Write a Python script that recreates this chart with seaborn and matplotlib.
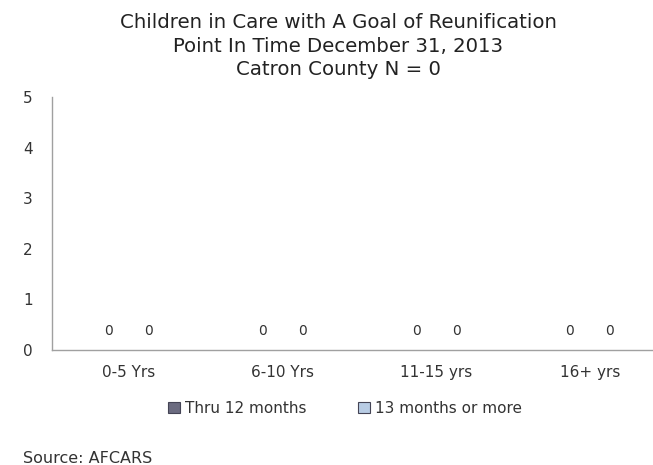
import matplotlib
matplotlib.use("Agg")
import matplotlib.pyplot as plt
import seaborn as sns
import pandas as pd

categories = ["0-5 Yrs", "6-10 Yrs", "11-15 yrs", "16+ yrs"]
thru_12 = [0, 0, 0, 0]
over_13 = [0, 0, 0, 0]
series_names = ["Thru 12 months", "13 months or more"]
title_lines = ["Children in Care with A Goal of Reunification",
               "Point In Time December 31, 2013",
               "Catron County N = 0"]
source = "Source: AFCARS"

df = pd.DataFrame({
    "cat": categories * 2,
    "val": thru_12 + over_13,
    "series": [series_names[0]] * 4 + [series_names[1]] * 4,
})

sns.set_style("white")
plt.rcParams["font.family"] = ["DejaVu Sans"]

fig = plt.figure(figsize=(6.53, 4.65), dpi=100)
ax = fig.add_axes([52 / 653, (465 - 350) / 465, 1 - 52 / 653, (350 - 97) / 465])

palette = {series_names[0]: "#6b6b80", series_names[1]: "#b8cce4"}
sns.barplot(data=df, x="cat", y="val", hue="series", order=categories,
            hue_order=series_names, palette=palette, width=0.52,
            edgecolor="#555566", linewidth=0, ax=ax)

for cont in ax.containers:
    for rect, v in zip(cont, cont.datavalues):
        ax.annotate(f"{v:g}", (rect.get_x() + rect.get_width() / 2, v),
                    xytext=(0, 13.5), textcoords="offset points",
                    ha="center", va="center", fontsize=10, color="#333333")

ax.set_ylim(0, 5)
ax.set_xlim(-0.5, 3.41)
ax.set_yticks([0, 1, 2, 3, 4, 5])
ax.set_xlabel("")
ax.set_ylabel("")
ax.tick_params(axis="both", length=0, labelsize=11, colors="#333333")
ax.tick_params(axis="x", pad=11)
ax.tick_params(axis="y", pad=14)
for s in ["top", "right"]:
    ax.spines[s].set_visible(False)
for s in ["left", "bottom"]:
    ax.spines[s].set_color("#a0a0a0")
    ax.spines[s].set_linewidth(1.0)

ax.get_legend().remove()
handles = [plt.Rectangle((0, 0), 1, 1, facecolor=palette[n], edgecolor="#444455", linewidth=0.8)
           for n in series_names]
fig.legend(handles, series_names, loc="center", bbox_to_anchor=(345 / 653, 1 - 408 / 465),
           ncol=2, frameon=False, fontsize=11, handlelength=0.8, handleheight=0.7,
           handletextpad=0.3, columnspacing=3.4, labelcolor="#333333")

title_y = [23, 46, 69]
for line, yy in zip(title_lines, title_y):
    fig.text(338 / 653, 1 - yy / 465, line, ha="center", va="center",
             fontsize=14.2, color="#222222")

fig.text(23 / 653, 1 - 458 / 465, source, ha="left", va="center", fontsize=11.5, color="#333333")

fig.savefig("out.png", dpi=100)
